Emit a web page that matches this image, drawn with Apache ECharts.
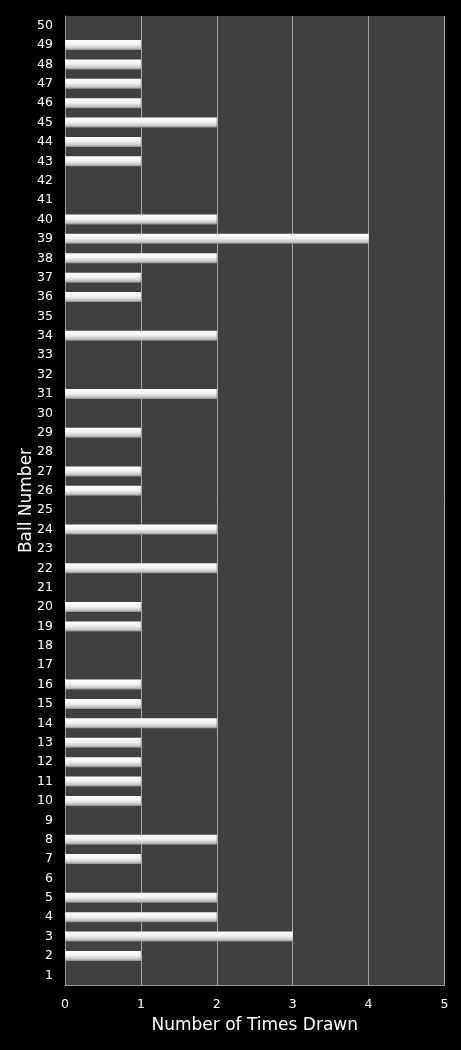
<!DOCTYPE html>
<html>
<head>
<meta charset="utf-8">
<script src="https://cdn.jsdelivr.net/npm/echarts@6/dist/echarts.min.js"></script>
<style>
html,body{margin:0;padding:0;background:#000;}
#c{width:461px;height:1050px;}
</style>
</head>
<body>
<div id="c"></div>
<script>
var ballNumbers = ["1","2","3","4","5","6","7","8","9","10","11","12","13","14","15","16","17","18","19","20","21","22","23","24","25","26","27","28","29","30","31","32","33","34","35","36","37","38","39","40","41","42","43","44","45","46","47","48","49","50"];
var timesDrawn = [0,1,3,2,2,0,1,2,0,1,1,1,1,2,1,1,0,0,1,1,0,2,0,2,0,1,1,0,1,0,2,0,0,2,0,1,1,2,4,2,0,0,1,1,2,1,1,1,1,0];
var xTicks = [0,1,2,3,4,5];

var chart = echarts.init(document.getElementById('c'));
chart.setOption({
  backgroundColor: '#000000',
  animation: false,
  grid: {left: 65, right: 16.5, top: 16, bottom: 65, show: true, backgroundColor: '#404040', borderWidth: 0},
  xAxis: {
    type: 'value', min: xTicks[0], max: xTicks[xTicks.length-1], interval: 1,
    name: 'Number of Times Drawn', nameLocation: 'middle', nameGap: 32, nameMoveOverlap: false,
    nameTextStyle: {color: '#ffffff', fontSize: 17, fontFamily: 'DejaVu Sans'},
    axisLine: {show: true, lineStyle: {color: '#9a9a9a', width: 1}},
    axisTick: {show: false},
    axisLabel: {color: '#ffffff', fontSize: 12.5, margin: 13, fontFamily: 'DejaVu Sans'},
    splitLine: {show: true, lineStyle: {color: '#a8a8a8', width: 1}}
  },
  yAxis: {
    type: 'category', data: ballNumbers,
    name: 'Ball Number', nameLocation: 'middle', nameGap: 30, nameRotate: 90, nameMoveOverlap: false,
    nameTextStyle: {color: '#ffffff', fontSize: 17, fontFamily: 'DejaVu Sans'},
    axisLine: {show: true, lineStyle: {color: '#9a9a9a', width: 1}},
    axisTick: {show: false},
    axisLabel: {color: '#ffffff', fontSize: 12.5, margin: 12, fontFamily: 'DejaVu Sans', interval: 0},
    splitLine: {show: false}
  },
  series: [{
    type: 'bar', data: timesDrawn, barWidth: 10,
    itemStyle: {
      color: new echarts.graphic.LinearGradient(0, 0, 0, 1, [
        {offset: 0, color: '#ffffff'},
        {offset: 0.45, color: '#f2f2f2'},
        {offset: 0.8, color: '#c8c8c8'},
        {offset: 1, color: '#8c8c8c'}
      ])
    }
  }]
});
</script>
</body>
</html>
